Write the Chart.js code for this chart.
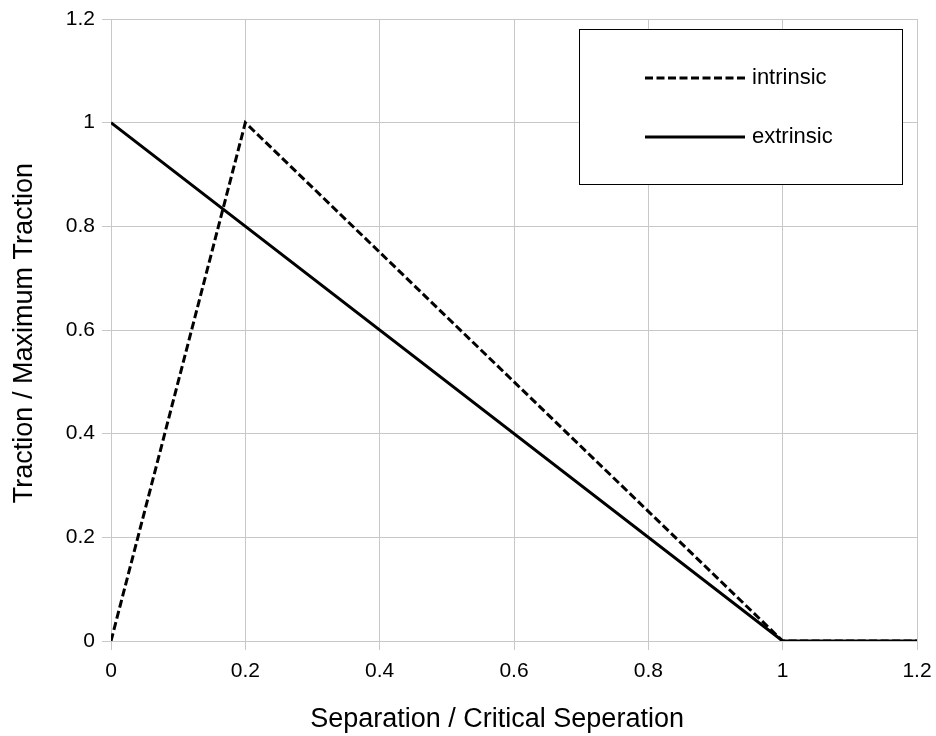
<!DOCTYPE html>
<html>
<head>
<meta charset="utf-8">
<script src="https://cdn.jsdelivr.net/npm/chart.js@4/dist/chart.umd.min.js"></script>
<style>
  html, body { margin: 0; padding: 0; background: #ffffff; }
  #wrap { width: 936px; height: 736px; }
</style>
</head>
<body>
<div id="wrap"><canvas id="c" width="936" height="736"></canvas></div>
<script>
// ---- data ----
const intrinsicX = [0, 0.2, 1, 1.2];
const intrinsicY = [0, 1, 0, 0];
const extrinsicX = [0, 1, 1.2];
const extrinsicY = [1, 0, 0];
const seriesNames = ['intrinsic', 'extrinsic'];
const xTitle = 'Separation / Critical Seperation';
const yTitle = 'Traction / Maximum Traction';
const axisMin = 0, axisMax = 1.2, axisStep = 0.2;

const FONT = '"Liberation Sans", Arial, sans-serif';
const toPts = (xs, ys) => xs.map((x, i) => ({ x: x, y: ys[i] }));

const datasets = [
  { label: seriesNames[1], data: toPts(extrinsicX, extrinsicY), borderColor: '#000', borderWidth: 3, borderDash: [], order: 0 },
  { label: seriesNames[0], data: toPts(intrinsicX, intrinsicY), borderColor: '#000', borderWidth: 3, borderDash: [8, 3.5], order: 1 }
];
datasets.forEach(d => { d.showLine = true; d.pointRadius = 0; d.pointHoverRadius = 0; d.fill = false; d.tension = 0; d.borderCapStyle = 'butt'; d.borderJoinStyle = 'miter'; });

const legendBox = {
  id: 'legendBox',
  afterDraw(chart) {
    const ctx = chart.ctx, a = chart.chartArea;
    const w = 323, h = 155;
    const left = a.right - 15 - w, top = a.top + 10;
    ctx.save();
    ctx.fillStyle = '#fff';
    ctx.fillRect(left, top, w, h);
    ctx.strokeStyle = '#000';
    ctx.lineWidth = 1;
    ctx.strokeRect(left + 0.5, top + 0.5, w, h);
    const rows = [
      { name: seriesNames[0], dash: [8, 3.5], y: top + 49 },
      { name: seriesNames[1], dash: [], y: top + 108 }
    ];
    rows.forEach(r => {
      ctx.beginPath();
      ctx.setLineDash(r.dash);
      ctx.lineWidth = 3;
      ctx.strokeStyle = '#000';
      ctx.moveTo(left + 66, r.y);
      ctx.lineTo(left + 166, r.y);
      ctx.stroke();
      ctx.setLineDash([]);
      ctx.fillStyle = '#000';
      ctx.font = '22px ' + FONT;
      ctx.textBaseline = 'middle';
      ctx.textAlign = 'left';
      ctx.fillText(r.name, left + 173, r.y);
    });
    ctx.restore();
  }
};

const axisTitles = {
  id: 'axisTitles',
  afterDraw(chart) {
    const ctx = chart.ctx, a = chart.chartArea;
    ctx.save();
    ctx.fillStyle = '#000';
    ctx.font = '27px ' + FONT;
    ctx.textAlign = 'center';
    ctx.textBaseline = 'alphabetic';
    // x title
    ctx.fillText(xTitle, a.left + (a.right - a.left) * 0.479, a.bottom + 86);
    // y title
    ctx.translate(a.left - 79, a.top + (a.bottom - a.top) * 0.505);
    ctx.rotate(-Math.PI / 2);
    ctx.fillText(yTitle, 0, 0);
    ctx.restore();
  }
};

Chart.defaults.font.family = FONT;
Chart.defaults.color = '#000';

new Chart(document.getElementById('c'), {
  type: 'scatter',
  data: { datasets: datasets },
  options: {
    responsive: false,
    animation: false,
    layout: { padding: { left: 0, right: 19, top: 19, bottom: 0 } },
    plugins: { legend: { display: false }, tooltip: { enabled: false } },
    scales: {
      x: {
        type: 'linear', min: axisMin, max: axisMax,
        ticks: { stepSize: axisStep, padding: 9, font: { size: 21 }, color: '#000',
          callback: v => String(Math.round(v * 10) / 10) },
        grid: { color: '#c8c8c8', lineWidth: 1, tickLength: 9, drawTicks: true },
        border: { color: '#c8c8c8' },
        title: { display: false, text: xTitle },
        afterFit: s => { s.height = 95; s.paddingRight = 0; s.paddingLeft = 0; }
      },
      y: {
        type: 'linear', min: axisMin, max: axisMax,
        ticks: { stepSize: axisStep, padding: 7, font: { size: 21 }, color: '#000',
          callback: v => String(Math.round(v * 10) / 10) },
        grid: { color: '#c8c8c8', lineWidth: 1, tickLength: 9, drawTicks: true },
        border: { color: '#c8c8c8' },
        title: { display: false, text: yTitle },
        afterFit: s => { s.width = 111; s.paddingTop = 0; s.paddingBottom = 0; }
      }
    }
  },
  plugins: [legendBox, axisTitles]
});
</script>
</body>
</html>
